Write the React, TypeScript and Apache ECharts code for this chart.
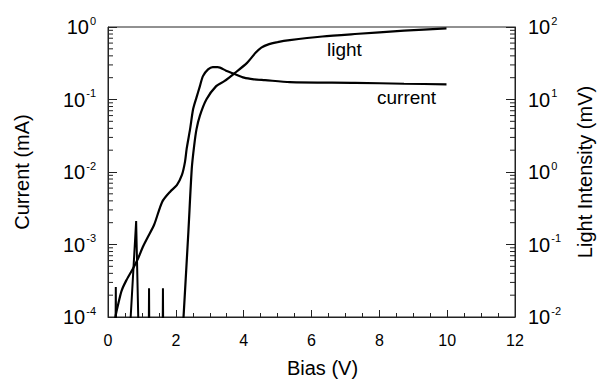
import React, { useEffect, useRef } from "react";
import * as echarts from "echarts";

// Bias (V), Current (mA)
const currentBias: number[] = [0.21, 0.23, 0.3, 0.4, 0.54, 0.73, 0.88, 1.02, 1.16, 1.36, 1.6, 1.84, 2.03, 2.18, 2.27, 2.32, 2.42, 2.51, 2.61, 2.71, 2.8, 2.95, 3.09, 3.24, 3.48, 3.72, 4.01, 4.3, 4.63, 5.36, 7.28, 8.73, 9.98];
const currentValues: number[] = [0.00009, 0.000107, 0.00015, 0.00023, 0.00032, 0.00046, 0.00063, 0.00091, 0.00123, 0.00187, 0.0039, 0.0054, 0.0066, 0.0091, 0.0138, 0.021, 0.039, 0.074, 0.107, 0.153, 0.21, 0.26, 0.28, 0.28, 0.25, 0.226, 0.2, 0.19, 0.185, 0.174, 0.17, 0.165, 0.162];

// Bias (V), Light Intensity (mV): noise spikes near the bottom
const lightNoiseBias: number[] = [0.22, 0.23, 0.24, 0.62, 0.83, 0.91, 1.2, 1.21, 1.22, 1.61, 1.62, 1.63];
const lightNoiseValues: number[] = [0.004, 0.026, 0.004, 0.004, 0.21, 0.004, 0.004, 0.025, 0.004, 0.004, 0.025, 0.004];

// Bias (V), Light Intensity (mV): main curve
const lightBias: number[] = [2.2, 2.37, 2.47, 2.54, 2.61, 2.71, 2.9, 3.19, 3.43, 3.72, 4.1, 4.35, 4.52, 4.75, 5.0, 5.36, 6.32, 7.28, 8.73, 9.98];
const lightValues: number[] = [0.006, 0.15, 1.12, 2.3, 3.9, 6, 10, 15.3, 17.9, 22.8, 32, 44, 52, 58, 62, 66, 74, 80, 89, 96];

// Axis ranges
const xMin = 0;
const xMax = 12;
const xStep = 2;
const currentMin = 1e-4;
const currentMax = 1;
const lightMin = 1e-2;
const lightMax = 1e2;

// Log minor tick positions (on current axis): multipliers 2..9 for each decade
const minorDecades: number[] = [1e-4, 1e-3, 1e-2, 1e-1];
const minorMultipliers: number[] = [2, 3, 4, 5, 6, 7, 8, 9];

const FONT = "'Liberation Sans', Arial, Helvetica, sans-serif";

const supLabel = (v: number) => {
  const e = Math.round(Math.log10(v));
  return `{b|10}{s|${e}}`;
};

const richLabel = {
  b: { fontSize: 20, fontFamily: FONT, color: "#000", verticalAlign: "bottom", lineHeight: 20 },
  s: { fontSize: 11, fontFamily: FONT, color: "#000", verticalAlign: "bottom", padding: [0, 0, 11, 1], lineHeight: 11 },
};

export default function App() {
  const ref = useRef<HTMLDivElement>(null);

  useEffect(() => {
    if (!ref.current) return;
    const chart = echarts.init(ref.current, undefined, { renderer: "svg" });

    const current = currentBias.map((x, i) => [x, currentValues[i]]);
    const lightNoise = lightNoiseBias.map((x, i) => [x, lightNoiseValues[i]]);
    const light = lightBias.map((x, i) => [x, lightValues[i]]);
    const minorTicks: number[][] = [];
    minorDecades.forEach((d) => minorMultipliers.forEach((m) => minorTicks.push([0, d * m])));

    const option: any = {
      animation: false,
      backgroundColor: "#fff",
      grid: {
        left: 108,
        right: 80,
        top: 27,
        bottom: 63,
        show: true,
        borderColor: "#222",
        borderWidth: 1,
        containLabel: false,
      },
      xAxis: {
        type: "value",
        min: xMin,
        max: xMax,
        interval: xStep,
        name: "Bias (V)",
        nameLocation: "middle",
        nameGap: 41,
        nameTextStyle: { fontSize: 20, fontFamily: FONT, color: "#000", padding: [0, 0, 0, 22] },
        axisLine: { show: true, lineStyle: { color: "#222", width: 1 } },
        axisTick: { show: true, inside: true, length: 7, lineStyle: { color: "#222" } },
        minorTick: { show: true, splitNumber: 4, length: 4, lineStyle: { color: "#222" } },
        axisLabel: { fontSize: 16, fontFamily: FONT, color: "#000", margin: 15 },
        splitLine: { show: false },
      },
      yAxis: [
        {
          type: "log",
          logBase: 10,
          min: currentMin,
          max: currentMax,
          name: "Current (mA)",
          nameLocation: "middle",
          nameGap: 76,
          nameTextStyle: { fontSize: 20, fontFamily: FONT, color: "#000" },
          axisLine: { show: true, lineStyle: { color: "#222", width: 1 } },
          axisTick: { show: true, inside: true, length: 9, lineStyle: { color: "#222" } },
          axisLabel: { formatter: supLabel, rich: richLabel, margin: 12 },
          splitLine: { show: false },
        },
        {
          type: "log",
          logBase: 10,
          min: lightMin,
          max: lightMax,
          position: "right",
          name: "Light Intensity (mV)",
          nameLocation: "middle",
          nameGap: 60,
          nameTextStyle: { fontSize: 20, fontFamily: FONT, color: "#000" },
          axisLine: { show: true, lineStyle: { color: "#222", width: 1 } },
          axisTick: { show: true, inside: true, length: 9, lineStyle: { color: "#222" } },
          axisLabel: { formatter: supLabel, rich: richLabel, margin: 13 },
          splitLine: { show: false },
        },
      ],
      graphic: [
        {
          type: "text",
          left: 327,
          top: 40,
          style: { text: "light", fontSize: 19, fontFamily: FONT, fill: "#000" },
        },
        {
          type: "text",
          left: 377,
          top: 88,
          style: { text: "current", fontSize: 19, fontFamily: FONT, fill: "#000" },
        },
      ],
      series: [
        {
          name: "minor ticks",
          type: "custom",
          yAxisIndex: 0,
          silent: true,
          clip: false,
          data: minorTicks,
          renderItem: (params: any, api: any) => {
            const cs = params.coordSys;
            const y = api.coord([0, api.value(1)])[1];
            const style = { stroke: "#222", lineWidth: 1 };
            return {
              type: "group",
              children: [
                { type: "line", shape: { x1: cs.x, y1: y, x2: cs.x + 5, y2: y }, style },
                { type: "line", shape: { x1: cs.x + cs.width - 5, y1: y, x2: cs.x + cs.width, y2: y }, style },
              ],
            };
          },
        },
        {
          name: "current",
          type: "line",
          yAxisIndex: 0,
          data: current,
          showSymbol: false,
          smooth: 0.25,
          clip: true,
          lineStyle: { color: "#000", width: 2.2 },
        },
        {
          name: "light noise",
          type: "line",
          yAxisIndex: 1,
          data: lightNoise,
          showSymbol: false,
          smooth: false,
          clip: true,
          lineStyle: { color: "#000", width: 2 },
        },
        {
          name: "light",
          type: "line",
          yAxisIndex: 1,
          data: light,
          showSymbol: false,
          smooth: 0.25,
          clip: true,
          lineStyle: { color: "#000", width: 2.2 },
        },
      ],
    };

    chart.setOption(option);
    return () => chart.dispose();
  }, []);

  return (
    <div
      ref={ref}
      style={{ position: "fixed", left: 0, top: 0, width: 603, height: 383, background: "#fff" }}
    />
  );
}
